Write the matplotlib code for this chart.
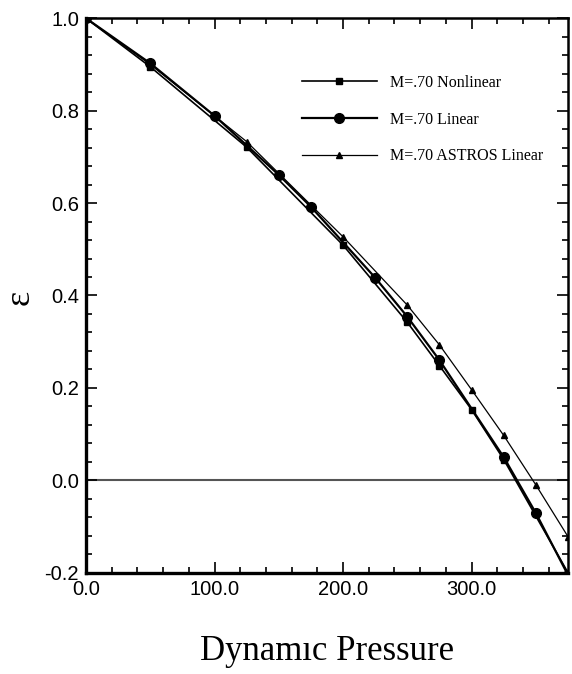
import matplotlib
matplotlib.use('Agg')
import matplotlib.pyplot as plt
from matplotlib.ticker import MultipleLocator, FormatStrFormatter

# data
q_nonlinear = [0, 50, 125, 200, 250, 275, 300, 325, 375]
eps_nonlinear = [1.0, 0.895, 0.721, 0.509, 0.342, 0.248, 0.153, 0.045, -0.2]

q_linear = [0, 50, 100, 150, 175, 225, 250, 275, 325, 350, 375]
eps_linear = [1.0, 0.9025, 0.789, 0.661, 0.592, 0.4385, 0.354, 0.260, 0.050, -0.071, -0.205]

q_astros = [0, 50, 125, 200, 250, 275, 300, 325, 350, 375]
eps_astros = [1.0, 0.900, 0.733, 0.527, 0.379, 0.293, 0.196, 0.097, -0.010, -0.122]

labels = ['M=.70 Nonlinear', 'M=.70 Linear', 'M=.70 ASTROS Linear']

tick_font = ['Liberation Sans Narrow', 'Liberation Sans', 'DejaVu Sans']
serif_font = ['Liberation Serif', 'DejaVu Serif']

fig = plt.figure(figsize=(5.72, 6.74), dpi=100)
ax = fig.add_axes([0.1503, 0.1503, 0.8427, 0.8226])

ax.plot(q_nonlinear, eps_nonlinear, color='black', lw=1.2, marker='s', ms=5,
        label=labels[0], zorder=4)
ax.plot(q_linear, eps_linear, color='black', lw=1.6, marker='o', ms=7,
        label=labels[1], zorder=3)
ax.plot(q_astros, eps_astros, color='black', lw=0.9, marker='^', ms=5,
        label=labels[2], zorder=3)

ax.axhline(0.0, color='#555555', lw=1.5, zorder=1)

ax.set_xlim(0, 375)
ax.set_ylim(-0.2, 1.0)
ax.xaxis.set_major_locator(MultipleLocator(100))
ax.xaxis.set_minor_locator(MultipleLocator(20))
ax.yaxis.set_major_locator(MultipleLocator(0.2))
ax.yaxis.set_minor_locator(MultipleLocator(0.04))
ax.xaxis.set_major_formatter(FormatStrFormatter('%.1f'))
ax.yaxis.set_major_formatter(FormatStrFormatter('%.1f'))

ax.tick_params(which='both', direction='in', top=True, right=True, width=1.2)
ax.tick_params(which='major', length=8, pad=5)
ax.tick_params(which='minor', length=4)
for lab in ax.get_xticklabels() + ax.get_yticklabels():
    lab.set_family(tick_font)
    lab.set_fontsize(14.5)

for side in ['left', 'bottom']:
    ax.spines[side].set_linewidth(2.4)
for side in ['top', 'right']:
    ax.spines[side].set_linewidth(1.8)

ax.set_xlabel('Dynamıc Pressure', family=serif_font, fontsize=25)
ax.xaxis.set_label_coords(0.5, -0.143)
ax.xaxis.label.set_va('center')
ax.set_ylabel('ε', family=serif_font, fontsize=26)
ax.yaxis.set_label_coords(-0.137, 0.497)
ax.yaxis.label.set_va('center')

ax.legend(loc='upper left', bbox_to_anchor=(0.448, 0.898), frameon=False,
          prop={'family': serif_font, 'size': 11.5}, handlelength=4.7,
          handletextpad=0.8, labelspacing=1.3, borderpad=0, borderaxespad=0)

fig.savefig('out.png', dpi=100)
